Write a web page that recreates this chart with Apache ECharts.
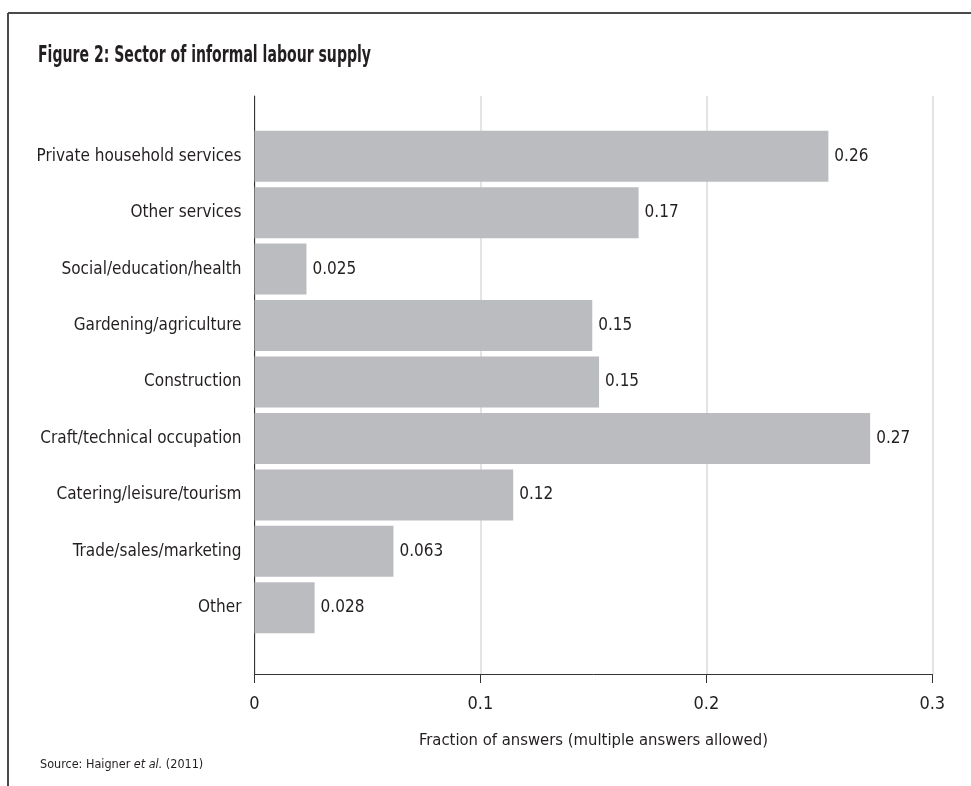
<!DOCTYPE html>
<html lang="en">
<head>
    <meta charset="UTF-8">
    <title>Figure 2: Sector of informal labour supply</title>
    <script type="text/javascript" src="https://cdn.jsdelivr.net/npm/echarts@6/dist/echarts.min.js"></script>
    <style>
        html, body { margin: 0; padding: 0; background: #fff; }
    </style>
</head>
<body>
    <div id="chart" style="width:971px;height:786px;"></div>
<script>
// data
var categories = ['Private household services', 'Other services', 'Social/education/health',
    'Gardening/agriculture', 'Construction', 'Craft/technical occupation',
    'Catering/leisure/tourism', 'Trade/sales/marketing', 'Other'];
var values = [0.254, 0.170, 0.023, 0.1495, 0.1525, 0.2725, 0.1145, 0.0615, 0.0266];
var labelTexts = ['0.26', '0.17', '0.025', '0.15', '0.15', '0.27', '0.12', '0.063', '0.028'];
var xTicks = [0, 0.1, 0.2, 0.3];

var font = "'Liberation Sans Narrow', 'DejaVu Sans Condensed', sans-serif";
var ink = '#231f20';

var myChart = echarts.init(document.getElementById('chart'));

var option = {
    backgroundColor: '#ffffff',
    animation: false,
    textStyle: { fontFamily: font, color: ink },
    title: {
        text: 'Source: Haigner {i|et al.} (2011)',
        left: 35, top: 753,
        textStyle: {
            fontFamily: font, fontSize: 12.5, fontWeight: 'normal', color: ink,
            rich: { i: { fontFamily: font, fontSize: 12.5, fontStyle: 'italic', color: ink } }
        }
    },
    // grid 0 holds the bars, grid 1 draws the frame of axes
    grid: [
        { left: 254.5, right: 38.7, top: 128, bottom: 150 },
        { left: 254.5, right: 38.7, top: 96, bottom: 112 }
    ],
    xAxis: [{
        gridIndex: 0, type: 'value', min: 0, max: 0.3, show: false
    }, {
        gridIndex: 1, type: 'value', min: xTicks[0], max: xTicks[xTicks.length - 1], interval: 0.1,
        name: 'Fraction of answers (multiple answers allowed)',
        nameLocation: 'middle', nameGap: 58,
        nameTextStyle: { fontFamily: font, fontSize: 16.5, color: ink },
        axisLine: { show: true, lineStyle: { color: '#333', width: 1 } },
        axisTick: { show: true, length: 9, lineStyle: { color: '#333', width: 1 } },
        axisLabel: { fontFamily: font, fontSize: 18, color: ink, margin: 21,
            formatter: function (v) { return String(+v.toFixed(1)); } },
        splitLine: { show: true, lineStyle: { color: '#e4e4e4', width: 2 } }
    }],
    yAxis: [{
        gridIndex: 0, type: 'category', inverse: true, data: categories,
        axisLine: { show: false }, axisTick: { show: false },
        axisLabel: { fontFamily: font, fontSize: 17, color: ink, margin: 13 }
    }, {
        gridIndex: 1, type: 'value', min: 0, max: 1,
        axisLine: { show: true, lineStyle: { color: '#333', width: 1 } },
        axisTick: { show: false }, axisLabel: { show: false }, splitLine: { show: false }
    }],
    series: [{
        type: 'bar',
        xAxisIndex: 0, yAxisIndex: 0,
        data: values,
        barWidth: 51,
        itemStyle: { color: '#bbbcc0' },
        label: {
            show: true, position: 'right', distance: 6,
            fontFamily: font, fontSize: 17, color: ink,
            formatter: function (p) { return labelTexts[p.dataIndex]; }
        }
    }],
    graphic: [{
        // condensed-looking title
        type: 'text', x: 38, y: 45, scaleX: 0.68,
        style: {
            text: 'Figure 2: Sector of informal labour supply',
            font: 'bold 23px ' + font, fill: ink
        }
    }, {
        type: 'line', silent: true,
        shape: { x1: 8, y1: 13, x2: 971, y2: 13 },
        style: { stroke: '#4a4a4a', lineWidth: 2 }
    }, {
        type: 'line', silent: true,
        shape: { x1: 8, y1: 13, x2: 8, y2: 786 },
        style: { stroke: '#4a4a4a', lineWidth: 2 }
    }]
};

myChart.setOption(option);
</script>
</body>
</html>
